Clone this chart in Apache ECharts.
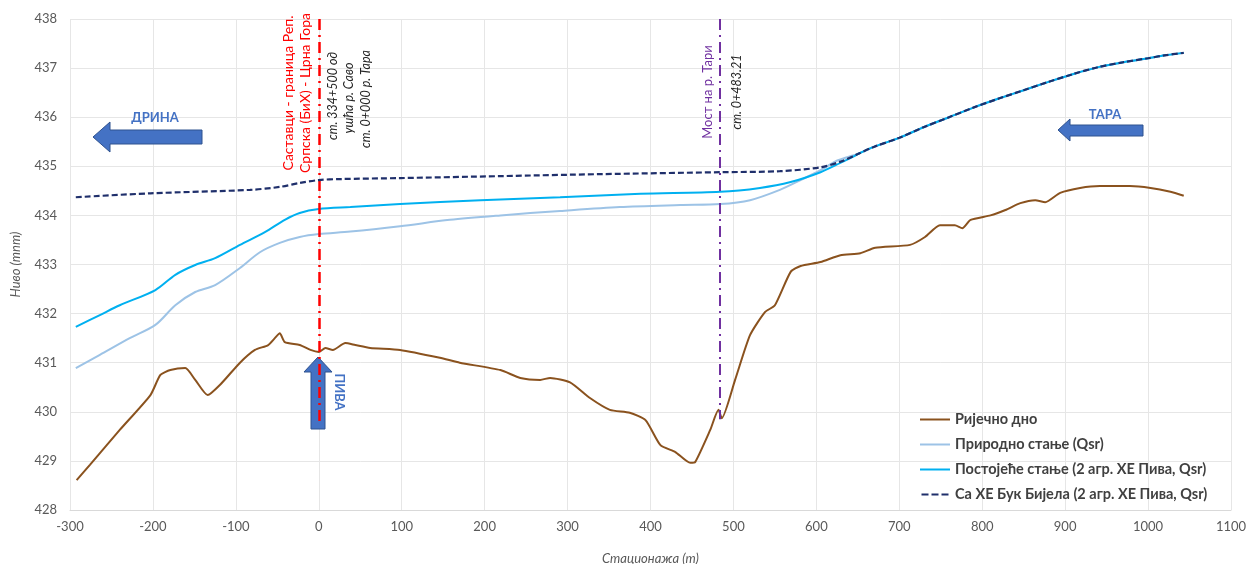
<!DOCTYPE html>
<html>
<head>
<meta charset="utf-8">
<script src="https://cdn.jsdelivr.net/npm/echarts@6/dist/echarts.min.js"></script>
<style>
html,body{margin:0;padding:0;background:#fff}
#chart{width:1249px;height:564px}
</style>
</head>
<body>
<div id="chart"></div>
<script>
// Longitudinal profile of the Drina / Tara / Piva confluence reach
var xTicksMin = -300, xTicksMax = 1100, xStep = 100;
var yTicksMin = 428, yTicksMax = 438, yStep = 1;

// River bed (Ријечно дно)
var bedX = [-292,-276,-240,-203,-191,-179,-161,-149,-134,-119,-95,-77,-61,-53,-47,-41,-23,-10,0,8,17,32,44,62,98,146,170,219,243,267,279,303,327,351,375,394,412,430,448,454,472,482,486,502,520,538,550,569,581,605,629,653,671,713,731,749,767,776,786,810,828,846,864,876,894,918,942,978,1003,1027,1043];
var bedY = [428.61,428.92,429.63,430.34,430.75,430.85,430.89,430.65,430.34,430.55,431.0,431.26,431.36,431.5,431.6,431.42,431.36,431.26,431.22,431.3,431.26,431.4,431.36,431.3,431.26,431.1,431.0,430.85,430.69,430.65,430.69,430.6,430.28,430.04,429.98,429.83,429.32,429.18,428.96,428.98,429.63,430.04,429.87,430.65,431.56,432.03,432.17,432.85,432.97,433.05,433.19,433.23,433.34,433.4,433.56,433.8,433.8,433.74,433.91,434.0,434.11,434.25,434.31,434.27,434.46,434.56,434.6,434.6,434.56,434.48,434.4];

// Natural state water level (Природно стање)
var natX = [-293,-264,-228,-197,-173,-149,-125,-95,-71,-47,-23,0,38,98,158,219,291,363,436,484,520,556,581,605,623,640,650,670,700,730,760,790,820,850,880,910,940,970,1000,1020,1043];
var natY = [430.89,431.16,431.5,431.77,432.17,432.44,432.58,432.93,433.25,433.44,433.56,433.62,433.67,433.78,433.91,434.0,434.09,434.17,434.21,434.23,434.31,434.52,434.72,434.92,435.1,435.2,435.25,435.4,435.58,435.8,436.0,436.2,436.38,436.55,436.72,436.88,437.02,437.12,437.2,437.26,437.31];

// Existing state water level (Постојеће стање)
var curX = [-293,-264,-240,-197,-173,-149,-125,-95,-65,-41,-23,0,38,98,195,291,388,484,532,569,605,629,645,650,670,700,730,760,790,820,850,880,910,940,970,1000,1020,1043];
var curY = [431.73,431.97,432.17,432.48,432.79,432.99,433.13,433.4,433.66,433.91,434.05,434.13,434.17,434.23,434.31,434.37,434.44,434.48,434.56,434.68,434.88,435.07,435.2,435.25,435.4,435.58,435.8,436.0,436.2,436.38,436.55,436.72,436.88,437.02,437.12,437.2,437.26,437.31];

// With HPP Buk Bijela (Са ХЕ Бук Бијела)
var bbX = [-293,-203,-83,-47,-23,0,26,98,219,339,484,556,605,630,650,670,700,730,760,790,820,850,880,910,940,970,1000,1020,1043];
var bbY = [434.37,434.45,434.52,434.58,434.66,434.72,434.74,434.76,434.8,434.84,434.88,434.9,434.98,435.1,435.25,435.4,435.58,435.8,436.0,436.2,436.38,436.55,436.72,436.88,437.02,437.12,437.2,437.26,437.31];

var seriesNames = ['Ријечно дно', 'Природно стање (Qsr)', 'Постојеће стање (2 агр. ХЕ Пива, Qsr)', 'Са ХЕ Бук Бијела (2 агр. ХЕ Пива, Qsr)'];

// Reference stations drawn as vertical lines
var confluenceStation = 0;
var bridgeStation = 483.21;

function pairs(xs, ys) { return xs.map(function (x, i) { return [x, ys[i]]; }); }

var FONT = 'Lato, "Open Sans", sans-serif';
var SOLID_ICON = 'path://M0,0h30v2h-30z';
var DASH_ICON = 'path://M0,0h7v2h-7zM10,0h7v2h-7zM20,0h7v2h-7z';

var chart = echarts.init(document.getElementById('chart'), null, { renderer: 'canvas' });

var option = {
  backgroundColor: '#ffffff',
  animation: false,
  grid: { left: 70, right: 18, top: 19, bottom: 54, containLabel: false, outerBoundsMode: 'none' },
  xAxis: {
    type: 'value', min: xTicksMin, max: xTicksMax, interval: xStep,
    name: 'Стационажа (m)', nameLocation: 'middle', nameGap: 42,
    nameTextStyle: { fontFamily: FONT, fontStyle: 'italic', fontSize: 13, color: '#595959' },
    axisLine: { show: true, lineStyle: { color: '#d9d9d9', width: 1 } },
    axisTick: { show: false },
    axisLabel: { fontFamily: FONT, fontSize: 13, color: '#595959', margin: 10,
      formatter: function (v) { return String(v); } },
    splitLine: { show: true, lineStyle: { color: '#e6e6e6', width: 1 } }
  },
  yAxis: {
    type: 'value', min: yTicksMin, max: yTicksMax, interval: yStep,
    name: 'Ниво (mnm)', nameLocation: 'middle', nameGap: 48, nameRotate: 90,
    nameTextStyle: { fontFamily: FONT, fontStyle: 'italic', fontSize: 13, color: '#595959' },
    axisLine: { show: false }, axisTick: { show: false },
    axisLabel: { fontFamily: FONT, fontSize: 13, color: '#595959', margin: 13,
      formatter: function (v) { return String(v); } },
    splitLine: { show: true, lineStyle: { color: '#e6e6e6', width: 1 } }
  },
  legend: {
    orient: 'vertical', left: 915, top: 407,
    itemWidth: 30, itemHeight: 2, itemGap: 10,
    textStyle: { fontFamily: FONT, fontWeight: 'bold', fontSize: 14.5, color: '#404040' },
    data: [
      { name: seriesNames[0], icon: SOLID_ICON },
      { name: seriesNames[1], icon: SOLID_ICON },
      { name: seriesNames[2], icon: SOLID_ICON },
      { name: seriesNames[3], icon: DASH_ICON }
    ]
  },
  series: [
    {
      name: seriesNames[0], type: 'line', data: pairs(bedX, bedY),
      showSymbol: false, symbol: 'none', smooth: 0.2, z: 3,
      lineStyle: { color: '#8a521e', width: 2 }, itemStyle: { color: '#8a521e' },
      markLine: {
        silent: true, symbol: ['none', 'none'], label: { show: false },
        data: [
          [{ coord: [confluenceStation, 438], lineStyle: { color: '#ff0000', width: 2.5, type: [11, 5, 2, 5] } },
           { coord: [confluenceStation, 429.8] }],
          [{ coord: [bridgeStation, 438], lineStyle: { color: '#7030a0', width: 2, type: [11, 5, 2, 5] } },
           { coord: [bridgeStation, 429.85] }]
        ]
      }
    },
    {
      name: seriesNames[1], type: 'line', data: pairs(natX, natY),
      showSymbol: false, symbol: 'none', smooth: 0.3, z: 3,
      lineStyle: { color: '#9dc3e6', width: 2 }, itemStyle: { color: '#9dc3e6' }
    },
    {
      name: seriesNames[2], type: 'line', data: pairs(curX, curY),
      showSymbol: false, symbol: 'none', smooth: 0.3, z: 4,
      lineStyle: { color: '#00b0f0', width: 2 }, itemStyle: { color: '#00b0f0' }
    },
    {
      name: seriesNames[3], type: 'line', data: pairs(bbX, bbY),
      showSymbol: false, symbol: 'none', smooth: 0.3, z: 5,
      lineStyle: { color: '#1f2f6b', width: 2.2, type: [6, 3] }, itemStyle: { color: '#1f2f6b' }
    }
  ],
  graphic: [
    // flow arrows
    { type: 'polygon', z: 1, shape: { points: [[93,137],[110,122],[110,130],[202,130],[202,144],[110,144],[110,152]] },
      style: { fill: '#4472c4', stroke: '#2f528f', lineWidth: 1 } },
    { type: 'text', z: 6, x: 155, y: 118, style: { text: 'ДРИНА', fill: '#4472c4', font: 'bold 13px ' + FONT, align: 'center', verticalAlign: 'middle' } },
    { type: 'polygon', z: 1, shape: { points: [[1058,130],[1070,119],[1070,125],[1143,125],[1143,136],[1070,136],[1070,141]] },
      style: { fill: '#4472c4', stroke: '#2f528f', lineWidth: 1 } },
    { type: 'text', z: 6, x: 1105, y: 115, style: { text: 'ТАРА', fill: '#4472c4', font: 'bold 13px ' + FONT, align: 'center', verticalAlign: 'middle' } },
    { type: 'polygon', z: 1, shape: { points: [[318,357],[332,372],[325,372],[325,429],[311,429],[311,372],[304,372]] },
      style: { fill: '#4472c4', stroke: '#2f528f', lineWidth: 1 } },
    { type: 'text', z: 6, x: 339, y: 392, rotation: -Math.PI / 2, style: { text: 'ПИВА', fill: '#4472c4', font: 'bold 13px ' + FONT, align: 'center', verticalAlign: 'middle' } },
    // confluence annotation
    { type: 'text', z: 6, x: 288, y: 93, rotation: Math.PI / 2, style: { text: 'Саставци - граница Реп.', fill: '#ff0000', font: '14px ' + FONT, align: 'center', verticalAlign: 'middle' } },
    { type: 'text', z: 6, x: 305, y: 93, rotation: Math.PI / 2, style: { text: 'Српска (БиХ) - Црна Гора', fill: '#ff0000', font: '14px ' + FONT, align: 'center', verticalAlign: 'middle' } },
    { type: 'text', z: 6, x: 333, y: 96, rotation: Math.PI / 2, style: { text: 'ст. 334+500 од', fill: '#262626', font: 'italic 12.5px ' + FONT, align: 'center', verticalAlign: 'middle' } },
    { type: 'text', z: 6, x: 349, y: 98, rotation: Math.PI / 2, style: { text: 'ушћа р. Саво', fill: '#262626', font: 'italic 12.5px ' + FONT, align: 'center', verticalAlign: 'middle' } },
    { type: 'text', z: 6, x: 366, y: 99, rotation: Math.PI / 2, style: { text: 'ст. 0+000 р. Тара', fill: '#262626', font: 'italic 12.5px ' + FONT, align: 'center', verticalAlign: 'middle' } },
    // bridge annotation
    { type: 'text', z: 6, x: 708, y: 92, rotation: Math.PI / 2, style: { text: 'Мост на р. Тари', fill: '#7030a0', font: '13px ' + FONT, align: 'center', verticalAlign: 'middle' } },
    { type: 'text', z: 6, x: 737, y: 92, rotation: Math.PI / 2, style: { text: 'ст. 0+483.21', fill: '#262626', font: 'italic 12.5px ' + FONT, align: 'center', verticalAlign: 'middle' } }
  ]
};

chart.setOption(option);
</script>
</body>
</html>
